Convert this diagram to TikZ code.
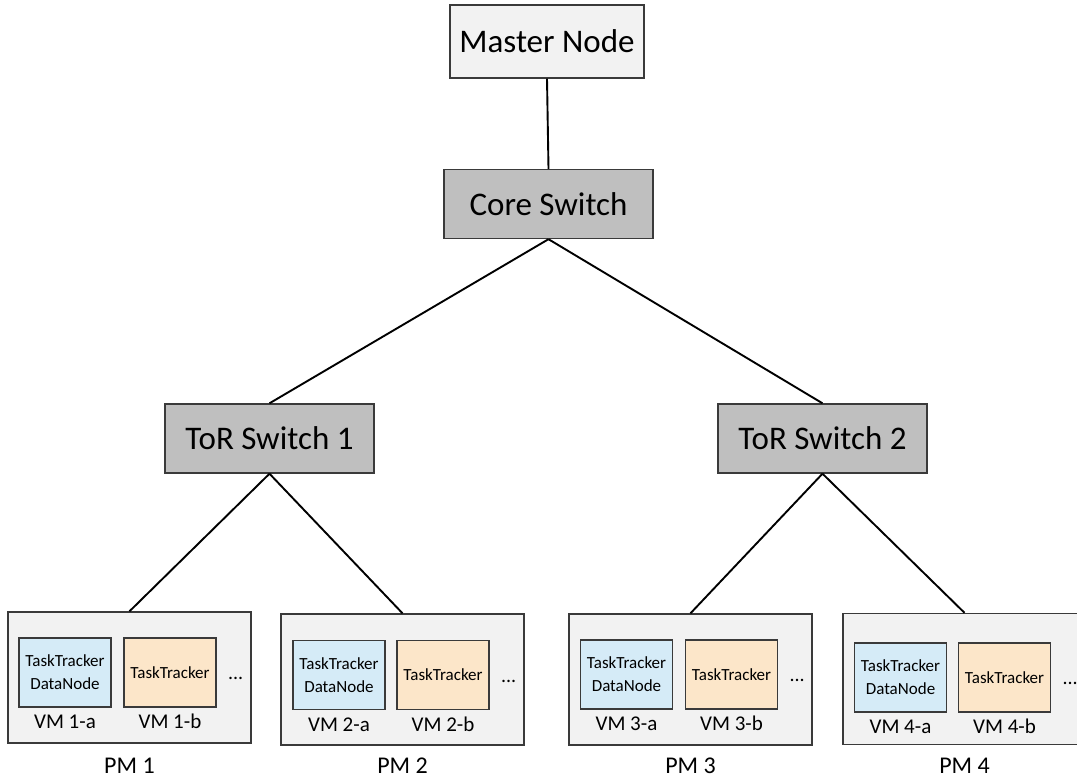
\documentclass[tikz,border=0pt]{standalone}
\usepackage{fontspec}
\setmainfont{Carlito}
\definecolor{boxgray}{HTML}{F2F2F2}
\definecolor{switchgray}{HTML}{BFBFBF}
\definecolor{vmblue}{HTML}{D5EBF7}
\definecolor{vmorange}{HTML}{FCE6C9}
\definecolor{edge}{HTML}{3A3A3A}
\begin{document}
\begin{tikzpicture}[x=1pt,y=-1pt,
  box/.style={draw=edge,line width=1.4pt,rectangle,inner sep=0pt,align=center},
  master/.style={box,fill=boxgray,minimum width=194pt,minimum height=73pt,font=\fontsize{33}{38}\selectfont},
  switch/.style={box,fill=switchgray,minimum width=209pt,minimum height=69pt,font=\fontsize{33}{38}\selectfont},
  pm/.style={box,fill=boxgray,minimum width=243pt,minimum height=131pt},
  vma/.style={box,fill=vmblue,minimum width=92pt,minimum height=69pt,font=\fontsize{17}{23}\selectfont},
  vmb/.style={box,fill=vmorange,minimum width=92pt,minimum height=69pt,font=\fontsize{17}{23}\selectfont},
  vmlabel/.style={anchor=base,inner sep=0pt,font=\fontsize{21}{24}\selectfont},
  pmlabel/.style={anchor=base,inner sep=0pt,font=\fontsize{24}{27}\selectfont},
  dots/.style={anchor=base,inner sep=0pt,font=\fontsize{20}{24}\selectfont},
  link/.style={line width=1.9pt,black}]
\useasboundingbox (0,0) rectangle (1077,778);

% top of the hierarchy
\node[master] (master) at (547,41.5) {Master Node};
\node[switch] (core) at (548.5,204) {Core Switch};
\node[switch] (tor1) at (269.5,438.5) {ToR Switch 1};
\node[switch] (tor2) at (822.5,438.5) {ToR Switch 2};

% physical machines
\node[pm] (pm1) at (129.5,677.5) {};
\node[pm] (pm2) at (402.5,679.5) {};
\node[pm] (pm3) at (690.5,679.5) {};
\node[pm] (pm4) at (964.5,679) {};

% virtual machines
\node[vma] (vm1a) at (65,672.5) {TaskTracker\\DataNode};
\node[vmb] (vm1b) at (170,672.5) {TaskTracker};
\node[vma] (vm2a) at (339,675) {TaskTracker\\DataNode};
\node[vmb] (vm2b) at (443,675) {TaskTracker};
\node[vma] (vm3a) at (626.5,674.5) {TaskTracker\\DataNode};
\node[vmb] (vm3b) at (731.5,674.5) {TaskTracker};
\node[vma] (vm4a) at (900.5,677.5) {TaskTracker\\DataNode};
\node[vmb] (vm4b) at (1004.5,677.5) {TaskTracker};

% labels under each VM, ellipses and PM names
\foreach \v/\t in {vm1a/VM 1-a,vm1b/VM 1-b,vm2a/VM 2-a,vm2b/VM 2-b,vm3a/VM 3-a,vm3b/VM 3-b,vm4a/VM 4-a,vm4b/VM 4-b}
  \node[vmlabel] (\v-lbl) at ([yshift=-21pt]\v.south) {\t};
\foreach \v in {vm1b,vm2b,vm3b,vm4b}
  \node[dots] (\v-dots) at ([xshift=19pt,yshift=-7pt]\v.east) {...};
\foreach \p/\t in {pm1/PM 1,pm2/PM 2,pm3/PM 3,pm4/PM 4}
  \node[pmlabel] (\p-lbl) at (\p.south |- 0,773) {\t};

% connectors
\draw[link] (master.south) -- (core.north);
\draw[link] (core.south) -- (tor1.north);
\draw[link] (core.south) -- (tor2.north);
\draw[link] (tor1.south) -- (pm1.north);
\draw[link] (tor1.south) -- (pm2.north);
\draw[link] (tor2.south) -- (pm3.north);
\draw[link] (tor2.south) -- (pm4.north);
\end{tikzpicture}
\end{document}
